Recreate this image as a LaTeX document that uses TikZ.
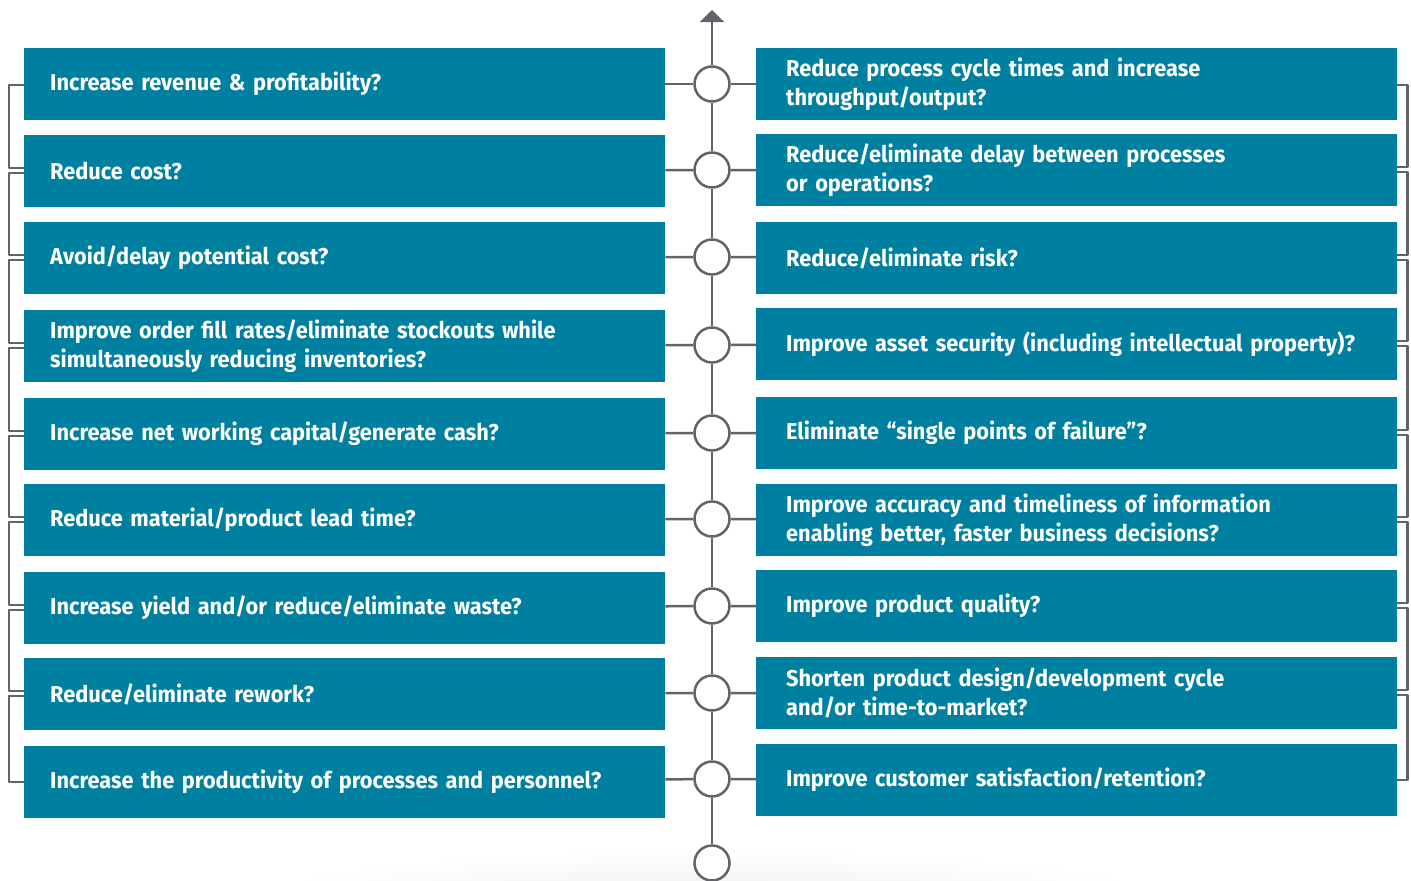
\documentclass[tikz,border=0pt]{standalone}
\usepackage{fontspec}
\setmainfont[FakeStretch=0.95,WordSpace=0.85]{Fira Sans}
\usepackage{tikz}
\usetikzlibrary{arrows.meta}
\definecolor{boxcol}{rgb}{0.0,0.5,0.63}
\definecolor{linecol}{rgb}{0.38,0.39,0.41}

\begin{document}
\begin{tikzpicture}[x=1bp,y=-1bp,line join=bevel,
  qbox/.style={fill=boxcol,text=white,anchor=west,align=left,
    font=\bfseries\fontsize{23}{29}\selectfont,
    text width=589bp,inner xsep=26bp,inner ysep=0bp,minimum height=72bp},
  rqbox/.style={qbox,text width=581bp,inner xsep=30bp},
  hub/.style={circle,draw=linecol,fill=white,line width=2.5bp,
    minimum size=35bp,inner sep=0bp},
  spine/.style={draw=linecol,line width=2.5bp},
  bracket/.style={draw=linecol,line width=2.5bp}]
%%
\useasboundingbox (0,0) rectangle (1411,880);
\clip (0,0) rectangle (1411,880);
\shade [inner color=black!7,outer color=white] (712,905) ellipse [x radius=470bp,y radius=55bp];
%% left questions
  \node (L1) at (24,84) [qbox] {Increase revenue \& profitability?};
  \node (L2) at (24,171) [qbox] {Reduce cost?};
  \node (L3) at (24,258) [qbox] {Avoid/delay potential cost?};
  \node (L4) at (24,346) [qbox] {Improve order fill rates/eliminate stockouts while\\simultaneously reducing inventories?};
  \node (L5) at (24,434) [qbox] {Increase net working capital/generate cash?};
  \node (L6) at (24,520) [qbox] {Reduce material/product lead time?};
  \node (L7) at (24,608) [qbox] {Increase yield and/or reduce/eliminate waste?};
  \node (L8) at (24,694) [qbox] {Reduce/eliminate rework?};
  \node (L9) at (24,782) [qbox] {Increase the productivity of processes and personnel?};
%% right questions
  \node (R1) at (756,84) [rqbox] {Reduce process cycle times and increase\\throughput/output?};
  \node (R2) at (756,170) [rqbox] {Reduce/eliminate delay between processes\\or operations?};
  \node (R3) at (756,258) [rqbox] {Reduce/eliminate risk?};
  \node (R4) at (756,344) [rqbox] {Improve asset security (including intellectual property)?};
  \node (R5) at (756,433) [rqbox] {Eliminate “single points of failure”?};
  \node (R6) at (756,520) [rqbox] {Improve accuracy and timeliness of information\\enabling better, faster business decisions?};
  \node (R7) at (756,606) [rqbox] {Improve product quality?};
  \node (R8) at (756,693) [rqbox] {Shorten product design/development cycle\\and/or time-to-market?};
  \node (R9) at (756,780) [rqbox] {Improve customer satisfaction/retention?};
%% spine
  \node (C1) at (712,84) [hub] {};
  \node (C2) at (712,170) [hub] {};
  \node (C3) at (712,257) [hub] {};
  \node (C4) at (712,345) [hub] {};
  \node (C5) at (712,433) [hub] {};
  \node (C6) at (712,519) [hub] {};
  \node (C7) at (712,606) [hub] {};
  \node (C8) at (712,693) [hub] {};
  \node (C9) at (712,779) [hub] {};
  \node (C10) at (712,863) [hub] {};
  \coordinate (top) at (712,10);
  \draw [spine,-{Triangle[width=24bp,length=12bp]}] (C1) -- (top);
  \draw [spine] (C1) -- (C2);
  \draw [spine] (C2) -- (C3);
  \draw [spine] (C3) -- (C4);
  \draw [spine] (C4) -- (C5);
  \draw [spine] (C5) -- (C6);
  \draw [spine] (C6) -- (C7);
  \draw [spine] (C7) -- (C8);
  \draw [spine] (C8) -- (C9);
  \draw [spine] (C9) -- (C10);
%% spokes
  \draw [spine] (L1) -- (C1) -- (R1);
  \draw [spine] (L2) -- (C2) -- (R2);
  \draw [spine] (L3) -- (C3) -- (R3);
  \draw [spine] (L4) -- (C4) -- (R4);
  \draw [spine] (L5) -- (C5) -- (R5);
  \draw [spine] (L6) -- (C6) -- (R6);
  \draw [spine] (L7) -- (C7) -- (R7);
  \draw [spine] (L8) -- (C8) -- (R8);
  \draw [spine] (L9) -- (C9) -- (R9);
%% brackets
  \draw [bracket] ([yshift=-1bp]L1.west) -- ++(-15,0) |- ([yshift=3bp]L2.west);
  \draw [bracket] ([yshift=-2bp]L2.west) -- ++(-15,0) |- ([yshift=3bp]L3.west);
  \draw [bracket] ([yshift=-2bp]L3.west) -- ++(-15,0) |- ([yshift=3bp]L4.west);
  \draw [bracket] ([yshift=-2bp]L4.west) -- ++(-15,0) |- ([yshift=3bp]L5.west);
  \draw [bracket] ([yshift=-2bp]L5.west) -- ++(-15,0) |- ([yshift=3bp]L6.west);
  \draw [bracket] ([yshift=-2bp]L6.west) -- ++(-15,0) |- ([yshift=3bp]L7.west);
  \draw [bracket] ([yshift=-2bp]L7.west) -- ++(-15,0) |- ([yshift=3bp]L8.west);
  \draw [bracket] ([yshift=-2bp]L8.west) -- ++(-15,0) |- ([yshift=0bp]L9.west);
  \draw [bracket] ([yshift=-1bp]R1.east) -- ++(10,0) |- ([yshift=3bp]R2.east);
  \draw [bracket] ([yshift=-2bp]R2.east) -- ++(10,0) |- ([yshift=3bp]R3.east);
  \draw [bracket] ([yshift=-2bp]R3.east) -- ++(10,0) |- ([yshift=3bp]R4.east);
  \draw [bracket] ([yshift=-2bp]R4.east) -- ++(10,0) |- ([yshift=3bp]R5.east);
  \draw [bracket] ([yshift=-2bp]R5.east) -- ++(10,0) |- ([yshift=3bp]R6.east);
  \draw [bracket] ([yshift=-2bp]R6.east) -- ++(10,0) |- ([yshift=3bp]R7.east);
  \draw [bracket] ([yshift=-2bp]R7.east) -- ++(10,0) |- ([yshift=3bp]R8.east);
  \draw [bracket] ([yshift=-2bp]R8.east) -- ++(10,0) |- ([yshift=0bp]R9.east);
%
\end{tikzpicture}
\end{document}
